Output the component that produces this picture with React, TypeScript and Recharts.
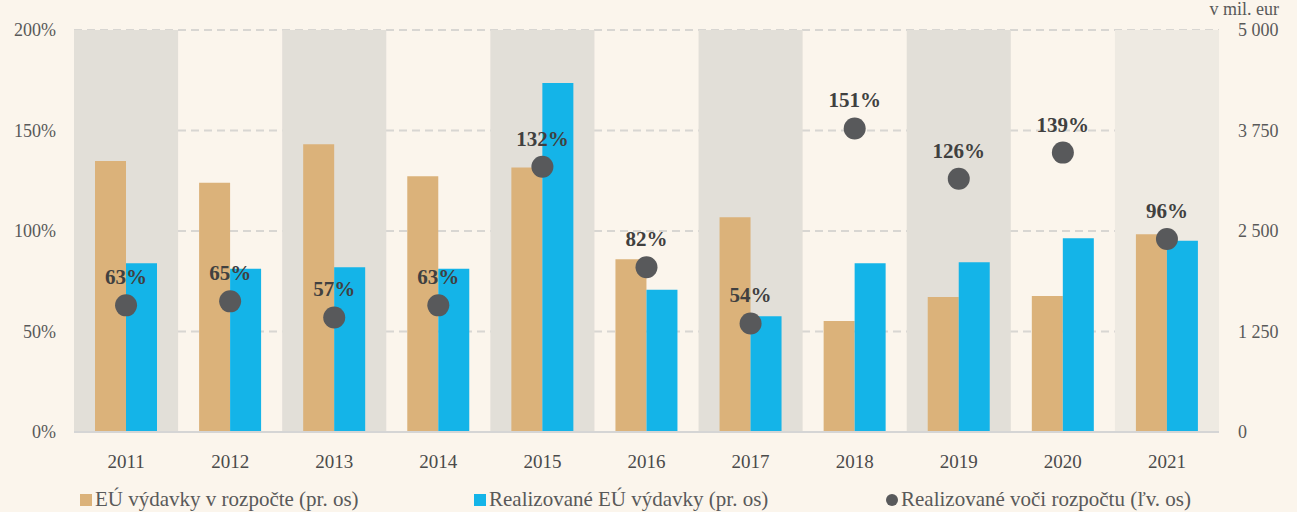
import React from 'react';
import {
  ComposedChart, Bar, Line, XAxis, YAxis, CartesianGrid, ReferenceArea, LabelList, Legend,
} from 'recharts';

const years = ['2011', '2012', '2013', '2014', '2015', '2016', '2017', '2018', '2019', '2020', '2021'];
const budget = [3370, 3100, 3580, 3180, 3290, 2150, 2670, 1380, 1680, 1690, 2460];
const realized = [2100, 2030, 2050, 2030, 4340, 1770, 1440, 2100, 2110, 2410, 2380];
const ratio = [63, 65, 57, 63, 132, 82, 54, 151, 126, 139, 96];
const shadedYears = ['2011', '2013', '2015', '2017', '2019'];
const lightShadedYears = ['2021'];
const leftTicks = [0, 50, 100, 150, 200];
const rightTicks = [0, 1250, 2500, 3750, 5000];
const seriesNames = ['EÚ výdavky v rozpočte (pr. os)', 'Realizované EÚ výdavky (pr. os)', 'Realizované voči rozpočtu (ľv. os)'];

const data = years.map((y, i) => ({ year: y, budget: budget[i], realized: realized[i], ratio: ratio[i] }));

const FONT = '"Liberation Serif", "DejaVu Serif", serif';
const BG = '#FBF5EC';
const TAN = '#DBB27A';
const BLUE = '#14B4E8';
const DOT = '#58595B';

const fmtRight = (v: number) => (v >= 1000 ? `${Math.floor(v / 1000)} ${String(v % 1000).padStart(3, '0')}` : String(v));

const RatioLabel = (props: any) => {
  const { x, y, value } = props;
  return (
    <text x={x} y={y - 21} textAnchor="middle" fontFamily={FONT} fontWeight={700} fontSize={21} fill="#404040">
      {`${value}%`}
    </text>
  );
};

const UnitLabel = (props: any) => {
  const { viewBox } = props;
  return (
    <text x={viewBox.x + 60} y={viewBox.y - 15} textAnchor="end" fontFamily={FONT} fontSize={18} fill="#595959">
      v mil. eur
    </text>
  );
};

const LegendContent = () => {
  const items = [
    { name: seriesNames[0], color: TAN, shape: 'square', x: 80 },
    { name: seriesNames[1], color: BLUE, shape: 'square', x: 474 },
    { name: seriesNames[2], color: DOT, shape: 'circle', x: 886 },
  ];
  return (
    <div style={{ position: 'relative', width: 1297, height: 24, fontFamily: FONT, fontSize: 21, color: '#595959' }}>
      {items.map((it) => (
        <div key={it.name} style={{ position: 'absolute', left: it.x, top: 0, display: 'flex', alignItems: 'center', whiteSpace: 'nowrap' }}>
          <span
            style={{
              display: 'inline-block', width: 12, height: 12, background: it.color, marginRight: 3,
              borderRadius: it.shape === 'circle' ? 6 : 0,
            }}
          />
          <span>{it.name}</span>
        </div>
      ))}
    </div>
  );
};

export default function App() {
  return (
    <div style={{ position: 'absolute', left: 0, top: 0, width: 1297, height: 512, background: BG, overflow: 'hidden' }}>
      <ComposedChart
        width={1297}
        height={512}
        data={data}
        margin={{ top: 30, right: 0, bottom: 16, left: 0 }}
        barGap={0}
        barSize={31}
      >
        {shadedYears.map((y) => (
          <ReferenceArea key={y} x1={y} x2={y} yAxisId="left" y1={0} y2={200} fill="#E2DFD8" fillOpacity={1} stroke="none" ifOverflow="visible" />
        ))}
        {lightShadedYears.map((y) => (
          <ReferenceArea key={y} x1={y} x2={y} yAxisId="left" y1={0} y2={200} fill="#EEEAE2" fillOpacity={1} stroke="none" ifOverflow="visible" />
        ))}
        <CartesianGrid yAxisId="left" vertical={false} stroke="#D8D6D2" strokeWidth={2} strokeDasharray="8 5" />
        <XAxis
          dataKey="year"
          axisLine={{ stroke: '#D5D5D5', strokeWidth: 2 }}
          tickLine={false}
          height={40}
          tick={{ fontFamily: FONT, fontSize: 19, fill: '#4A4A4A', dy: 15 }}
        />
        <YAxis
          yAxisId="left"
          orientation="left"
          width={74}
          domain={[0, 200]}
          ticks={leftTicks}
          tickFormatter={(v: number) => `${v}%`}
          axisLine={false}
          tickLine={false}
          tick={{ fontFamily: FONT, fontSize: 18, fill: '#595959', dx: -10 }}
        />
        <YAxis
          yAxisId="right"
          orientation="right"
          width={78}
          domain={[0, 5000]}
          ticks={rightTicks}
          tickFormatter={fmtRight}
          axisLine={false}
          tickLine={false}
          tick={{ fontFamily: FONT, fontSize: 18, fill: '#595959', dx: 11 }}
          label={<UnitLabel />}
        />
        <Legend verticalAlign="bottom" content={<LegendContent />} wrapperStyle={{ position: 'absolute', left: 0, top: 487, width: 1297 }} />
        <Bar yAxisId="right" dataKey="budget" name={seriesNames[0]} fill={TAN} isAnimationActive={false} />
        <Bar yAxisId="right" dataKey="realized" name={seriesNames[1]} fill={BLUE} isAnimationActive={false} />
        <Line
          yAxisId="left"
          dataKey="ratio"
          name={seriesNames[2]}
          stroke="none"
          dot={{ r: 11, fill: DOT, stroke: 'none' }}
          activeDot={false}
          isAnimationActive={false}
        >
          <LabelList dataKey="ratio" content={<RatioLabel />} />
        </Line>
      </ComposedChart>
    </div>
  );
}
